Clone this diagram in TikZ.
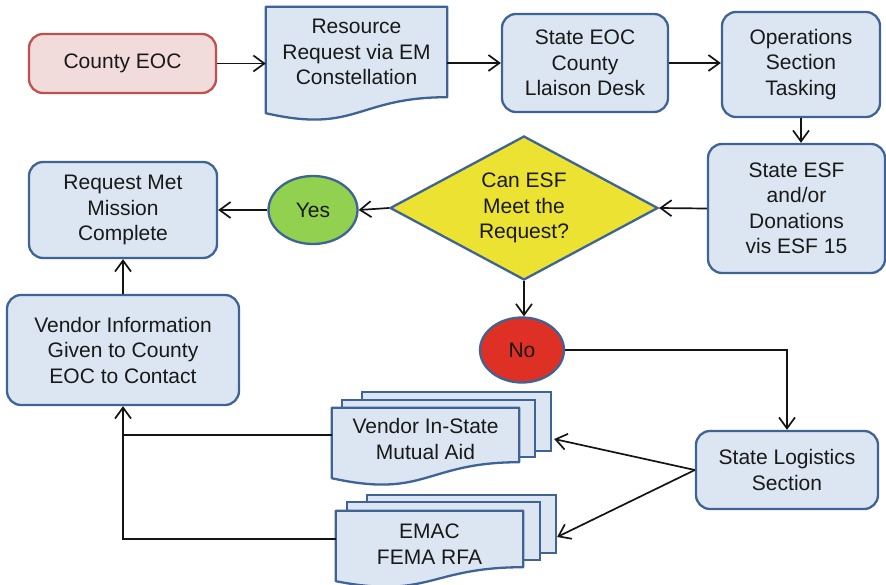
\documentclass[tikz,border=0pt]{standalone}
\usepackage{fontspec}
\setmainfont{Liberation Sans}
\usetikzlibrary{shapes.geometric,arrows.meta,calc}
\pgfdeclarelayer{background}
\pgfsetlayers{background,main}

\definecolor{boxfill}{RGB}{220,230,242}
\definecolor{boxline}{RGB}{62,99,148}
\definecolor{startfill}{RGB}{242,220,219}
\definecolor{startline}{RGB}{192,80,77}
\definecolor{decfill}{RGB}{235,226,50}
\definecolor{yesfill}{RGB}{146,208,80}
\definecolor{nofill}{RGB}{222,48,36}
\definecolor{ink}{RGB}{25,25,25}
\definecolor{wire}{RGB}{20,20,20}

\tikzset{
  base/.style={font=\fontsize{21}{25.5}\selectfont, text=ink, align=center, inner sep=0pt},
  procbox/.style={base, rectangle, rounded corners=14pt, draw=boxline, fill=boxfill,
                  line width=2.3pt},
  startbox/.style={procbox, draw=startline, fill=startfill},
  doctext/.style={base, rectangle},
  docshape/.style={draw=boxline, fill=boxfill, line width=2.3pt, line join=round},
  sheet/.style={rectangle, draw=boxline, fill=boxfill, line width=2.3pt, inner sep=0pt},
  decision/.style={base, diamond, draw=boxline, fill=decfill, line width=2.3pt,
                   shape aspect=1.86},
  oval/.style={base, ellipse, draw=boxline, line width=2.3pt},
  flow/.style={draw=wire, line width=1.7pt,
               -{Straight Barb[length=11pt,width=16pt,line width=1.7pt]}},
  plain/.style={draw=wire, line width=1.7pt}
}

% document outline with a wavy lower edge below the node #1; #2 = extra drop at the left
\newcommand\docoutline[2]{%
  \path[docshape] (#1.north west) -- (#1.north east) -- (#1.south east)
    .. controls (#1.south) and ($(#1.south)+(0,2.3*#2)$) .. ($(#1.south west)+(0,#2)$)
    -- cycle;}

\begin{document}
\begin{tikzpicture}[x=1pt,y=-1pt]
\useasboundingbox (0,0) rectangle (886,584);

% top row
\node[startbox, minimum width=187pt, minimum height=59pt] (county) at (122.5,63.5) {County EOC};
\node[doctext, minimum width=181pt, minimum height=90pt] (res) at (356.5,52)
  {Resource\\Request via EM\\Constellation};
\node[procbox, minimum width=166pt, minimum height=98pt] (seoc) at (585,63)
  {State EOC\\County\\Llaison Desk};
\node[procbox, minimum width=158pt, minimum height=105pt] (ops) at (801,64.5)
  {Operations\\Section\\Tasking};

% middle row
\node[procbox, minimum width=177pt, minimum height=129pt] (esf) at (796.5,208.5)
  {State ESF\\and/or\\Donations\\vis ESF 15};
\node[decision, minimum width=268pt, minimum height=144pt] (dec) at (524,208)
  {Can ESF\\Meet the\\Request?};
\node[oval, fill=yesfill, minimum width=89pt, minimum height=68pt] (yes) at (313,210) {Yes};
\node[procbox, minimum width=188pt, minimum height=96pt] (req) at (123,210)
  {Request Met\\Mission\\Complete};

% lower part
\node[oval, fill=nofill, minimum width=84pt, minimum height=65pt] (no) at (522,350) {No};
\node[procbox, minimum width=182pt, minimum height=78pt] (logi) at (787,470)
  {State Logistics\\Section};
\node[procbox, minimum width=232pt, minimum height=110pt] (vinfo) at (123,350)
  {Vendor Information\\Given to County\\EOC to Contact};
\node[doctext, minimum width=187pt, minimum height=54pt,
      label={[base, yshift=-4pt]center:Vendor In-State\\Mutual Aid}] (vend) at (425.5,435) {};
\node[doctext, minimum width=187pt, minimum height=56pt,
      label={[base, yshift=-5pt]center:EMAC\\FEMA RFA}] (emac) at (429.5,539) {};

% document outlines and stacked sheets behind the texts
\begin{pgfonlayer}{background}
  \docoutline{res}{16}
  \node[sheet, minimum width=189pt, minimum height=59pt] (vendB) at (456.5,421.5) {};
  \node[sheet, minimum width=193pt, minimum height=57pt] (vendM) at (438.5,428.5) {};
  \docoutline{vend}{16}
  \node[sheet, minimum width=189pt, minimum height=58pt] (emacB) at (461.5,524) {};
  \node[sheet, minimum width=193pt, minimum height=58pt] (emacM) at (443.5,531) {};
  \docoutline{emac}{14}
\end{pgfonlayer}

% connectors
\draw[flow] (county.east) -- (county.east -| res.west);
\draw[flow] (seoc.west -| res.east) -- (seoc.west);
\draw[flow] (seoc.east) -- (seoc.east -| ops.west);
\draw[flow] (ops.south) -- (ops.south |- esf.north);
\draw[flow] (esf.west) -- (dec.east);
\draw[flow] (dec.west) -- (yes.east);
\draw[flow] (yes.west) -- (req.east);
\draw[flow] (dec.south) -- (dec.south |- no.north);
\draw[flow] (no.east) -| (logi.north);
\draw[flow] (logi.west) -- ($(vendB.east)+(2,17.5)$);
\draw[flow] (logi.west) -- ($(emacB.east)+(0,13)$);
\draw[plain] (vend.west) -- (vend.west -| vinfo.south);
\draw[flow] (emac.west) -| (vinfo.south);
\draw[flow] (vinfo.north) -- (req.south);
\end{tikzpicture}
\end{document}
